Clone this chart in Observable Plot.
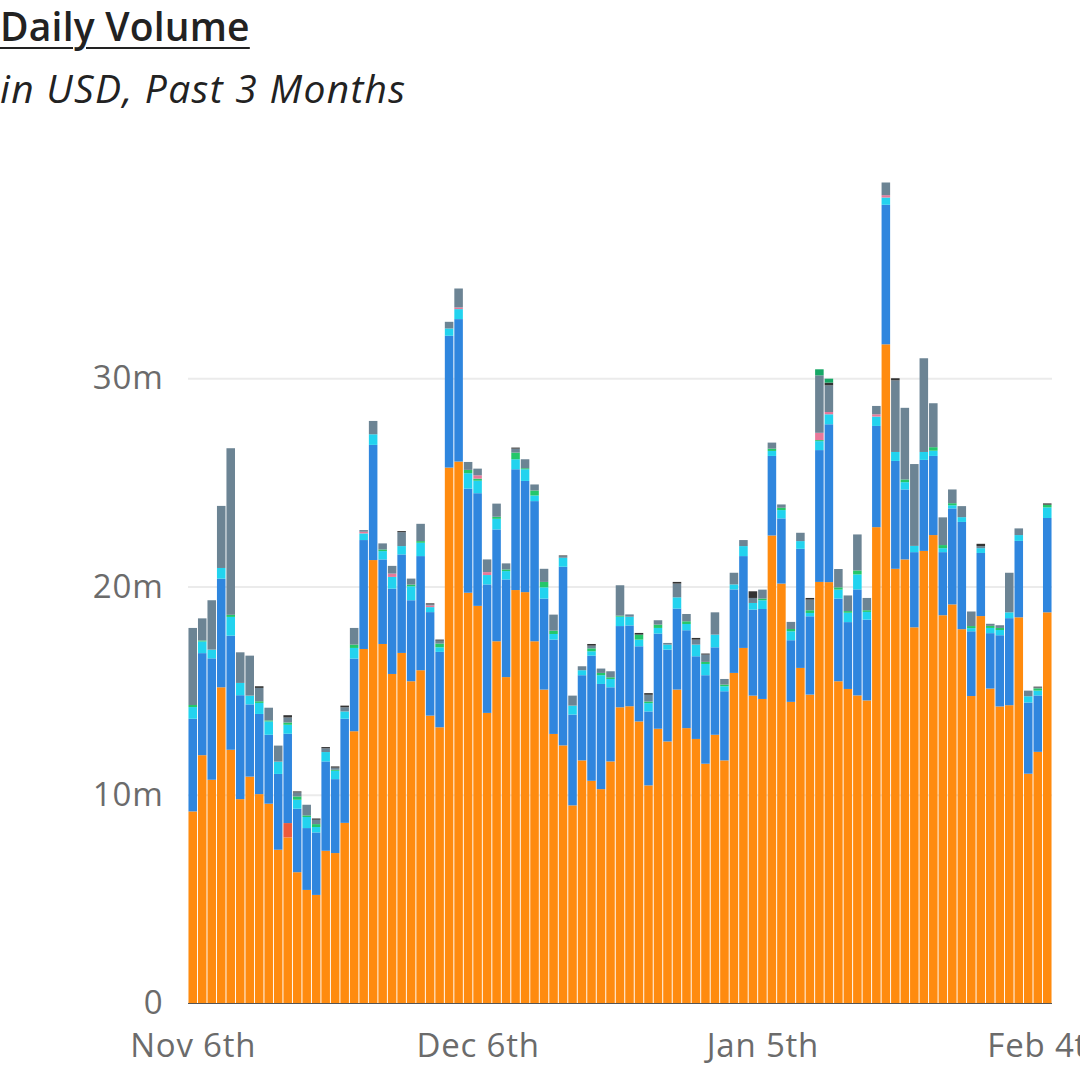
<!DOCTYPE html>
<html><head><meta charset="utf-8">
<script src="https://cdn.jsdelivr.net/npm/d3@7"></script>
<script src="https://cdn.jsdelivr.net/npm/@observablehq/plot@0.6"></script>
<style>
html,body{margin:0;padding:0;background:#fff;width:1080px;height:1070px;overflow:hidden;}
#title{position:absolute;left:0;top:6px;font:600 39px/1 "Open Sans";color:#222;letter-spacing:0.2px;text-decoration:underline;text-decoration-thickness:2px;text-underline-offset:6px;white-space:nowrap}
#subtitle{position:absolute;left:0;top:68px;font:italic 400 39px/1 "Open Sans";color:#222;letter-spacing:1.3px;white-space:nowrap}
#chart{position:absolute;left:0;top:130px}
#chart svg text{letter-spacing:0.8px}
</style></head><body>
<div id="title">Daily Volume</div>
<div id="subtitle">in USD, Past 3 Months</div>
<div id="chart"></div>
<script>
// Categories: 91 consecutive days, Nov 6th .. Feb 4th
const startDay = "2023-11-06";
const dayCount = 91;
const tickLabels = ["Nov 6th", "Dec 6th", "Jan 5th", "Feb 4th"];
const tickIndex = [0, 30, 60, 90];
const yTicks = [0, 10, 20, 30];
const yTickLabels = ["0", "10m", "20m", "30m"];

// Series values, in millions of USD (stack order bottom -> top)
const seriesNames = ["Orange", "Red", "Blue", "Cyan", "Green", "Pink", "Grey", "Dark", "Dark green"];
const seriesColors = ["#ff8b0f", "#ee5a3c", "#2f86de", "#22d3ef", "#24c76a", "#e8789a", "#6c8494", "#333333", "#17a866"];

const orangeVals = [9.2,11.9,10.72,15.16,12.16,9.79,10.87,10.03,9.57,7.36,
7.95,6.28,5.43,5.19,7.31,7.2,8.65,13.05,17.0,21.27,
17.24,15.8,16.81,15.45,15.98,13.8,13.24,25.71,26.0,19.7,
19.07,13.93,17.37,15.65,19.83,19.73,17.37,15.05,12.92,12.37,
9.49,11.65,10.67,10.27,11.6,14.2,14.25,13.52,10.45,13.17,
12.56,15.05,13.2,12.68,11.49,12.88,11.65,15.85,17.05,14.76,
14.6,22.45,20.14,14.46,16.09,14.81,20.22,20.21,15.45,15.08,
14.77,14.53,22.85,31.63,20.85,21.3,18.04,21.71,22.47,18.62,
19.14,17.95,14.74,18.58,15.1,14.24,14.3,18.52,11.01,12.06,
18.76];
const redVals = [0,0,0,0,0,0,0,0,0,0,
0.69,0,0,0,0,0,0,0,0,0,
0,0,0,0,0,0,0,0,0,0,
0,0,0,0,0,0,0,0,0,0,
0,0,0,0,0,0,0,0,0,0,
0,0,0,0,0,0,0,0,0,0,
0,0,0,0,0,0,0,0,0,0,
0,0,0,0,0,0,0,0,0,0,
0,0,0,0,0,0,0,0,0,0,
0];
const blueVals = [4.45,4.9,5.83,5.22,5.48,4.99,3.47,3.85,3.31,3.64,
4.29,3.05,2.97,3.0,4.29,3.55,5.0,3.49,5.23,5.53,
4.06,4.1,4.73,3.89,5.48,4.97,3.62,6.33,6.84,5.0,
5.41,6.17,5.37,4.69,5.8,5.34,6.73,4.37,4.53,8.58,
4.36,4.09,6.01,5.05,3.56,3.9,3.88,3.61,3.55,4.57,
4.41,3.89,4.7,3.97,4.25,4.2,3.32,4.01,4.41,4.13,
4.32,3.82,3.13,2.96,5.72,3.76,6.33,7.58,3.97,3.21,
5.09,3.88,4.86,6.7,5.18,3.36,3.61,4.37,3.8,3.03,
4.61,5.15,3.11,3.03,2.66,3.42,4.18,3.67,3.42,2.71,
4.53];
const cyanVals = [0.56,0.56,0.42,0.51,0.9,0.59,0.42,0.53,0.64,0.59,
0.43,0.43,0.53,0.26,0.45,0.4,0.35,0.51,0.32,0.51,
0.4,0.56,0.4,0.67,0.64,0.24,0.22,0.35,0.48,0.74,
0.6,0.45,0.51,0.4,0.48,0.56,0.27,0.54,0.27,0.43,
0.43,0.24,0.21,0.42,0.4,0.45,0.42,0.32,0.4,0.27,
0.24,0.54,0.3,0.56,0.54,0.61,0.24,0.24,0.48,0.32,
0.42,0.24,0.4,0.43,0.37,0.16,0.43,0.48,0.43,0.45,
0.72,0.37,0.45,0.35,0.43,0.35,0.3,0.38,0.25,0.19,
0.15,0.23,0.15,0.23,0.25,0.25,0.28,0.28,0.3,0.23,
0.51];
const greenVals = [0.1,0.05,0,0,0.1,0,0,0.08,0.05,0,
0.11,0.16,0.08,0.14,0,0.05,0,0.16,0,0,
0.08,0,0,0.08,0.08,0,0.18,0,0,0.16,
0.1,0,0.1,0.08,0.32,0.05,0.24,0.26,0.16,0,
0,0,0.14,0.11,0.08,0.05,0,0.24,0.08,0.16,
0,0,0.13,0,0.1,0,0.08,0,0,0,
0.08,0.11,0.11,0.11,0,0.13,0.05,0,0.11,0.08,
0.19,0.08,0,0,0,0.13,0,0,0.17,0.15,
0.1,0,0.1,0,0.1,0.1,0,0,0,0.11,
0.13];
const pinkVals = [0,0,0,0,0,0,0,0,0,0,
0,0,0,0,0,0,0,0,0.08,0,
0,0.16,0,0,0,0.08,0,0,0.08,0,
0.16,0.14,0,0,0,0,0,0,0,0,
0,0,0,0,0,0,0,0,0,0,
0,0,0,0,0,0,0,0,0,0,
0,0,0,0,0,0,0.35,0.11,0,0,
0,0,0.11,0.11,0,0,0,0,0,0,
0,0,0,0,0,0,0,0,0,0,
0];
const greyVals = [3.7,1.06,2.37,2.98,8.0,1.47,1.92,0.64,0.61,0.77,
0.24,0.19,0.51,0.21,0.18,0.1,0.2,0.8,0.08,0.64,
0.29,0.37,0.67,0.29,0.83,0.05,0.14,0.32,0.91,0.38,
0.32,0.61,0.63,0.29,0.19,0.43,0.29,0.63,0.77,0.08,
0.48,0.19,0.13,0.21,0.29,1.46,0.11,0,0.32,0.21,
0.08,0.66,0.35,0.24,0.35,1.07,0.27,0.56,0.29,0.24,
0.43,0.29,0.16,0.34,0.4,0.51,2.76,1.28,0.88,0.75,
1.73,0.59,0.4,0.61,3.44,3.44,3.93,4.5,2.11,1.33,
0.66,0.53,0.7,0.1,0.1,0.13,1.9,0.32,0.27,0.04,
0];
const darkVals = [0,0,0,0,0,0,0,0.08,0,0,
0.11,0.05,0,0.06,0.06,0.06,0.08,0,0,0,
0,0,0.05,0,0,0.05,0.05,0,0,0,
0,0,0,0,0.05,0,0,0,0,0.03,
0,0,0.08,0,0,0,0,0.08,0.08,0,
0,0.08,0,0.08,0.05,0,0,0,0,0.32,
0,0,0,0,0,0.08,0,0.13,0,0,
0,0,0,0,0.1,0,0,0,0,0,
0,0,0,0.11,0,0,0,0,0,0.04,
0.06];
const darkGreenVals = [0,0,0,0,0,0,0,0,0,0,
0,0,0,0,0,0,0,0,0,0,
0,0,0,0,0,0,0,0,0,0,
0,0,0,0,0,0,0,0,0,0,
0,0,0,0,0,0,0,0,0,0,
0,0,0,0,0,0,0,0,0,0,
0,0,0,0,0,0,0.29,0.19,0,0,
0,0,0,0,0,0,0,0,0,0,
0,0,0,0,0,0,0,0,0,0,
0];

const seriesArrays = [orangeVals, redVals, blueVals, cyanVals, greenVals, pinkVals, greyVals, darkVals, darkGreenVals];

const fmt = d3.utcFormat("%Y-%m-%d");
const start = d3.utcParse("%Y-%m-%d")(startDay);
const dayKeys = d3.utcDay.range(start, d3.utcDay.offset(start, dayCount)).map(fmt);
const tickDays = tickIndex.map(i => dayKeys[i]);
const tickLabelMap = new Map(tickDays.map((d, k) => [d, tickLabels[k]]));
const yLabelMap = new Map(yTicks.map((v, k) => [v, yTickLabels[k]]));

const rows = [];
seriesNames.forEach((s, k) => {
  seriesArrays[k].forEach((v, i) => rows.push({day: dayKeys[i], series: s, value: v}));
});

const chart = Plot.plot({
  width: 1080,
  height: 940,
  marginLeft: 188,
  marginRight: 28,
  marginTop: 40,
  marginBottom: 67,
  style: {fontFamily: "'Open Sans', sans-serif", fontSize: "32px", color: "#6b6b6b", background: "#fff", overflow: "visible"},
  x: {type: "band", domain: dayKeys, paddingInner: 0.1, paddingOuter: 0.05},
  y: {domain: [0, 40]},
  color: {domain: seriesNames, range: seriesColors},
  marks: [
    Plot.gridY(yTicks.filter(v => v > 0), {stroke: "#ebebeb", strokeOpacity: 1, strokeWidth: 2}),
    Plot.barY(rows, {x: "day", y: "value", fill: "series", order: seriesNames}),
    Plot.ruleY([0], {stroke: "#555", strokeWidth: 1}),
    Plot.axisY(yTicks, {tickSize: 0, tickPadding: 25, fontSize: 33, tickFormat: v => yLabelMap.get(v), label: null}),
    Plot.axisX(tickDays, {tickSize: 0, tickPadding: 30, fontSize: 33, tickFormat: d => tickLabelMap.get(d), label: null})
  ]
});
document.getElementById("chart").appendChild(chart);
</script>
</body></html>
